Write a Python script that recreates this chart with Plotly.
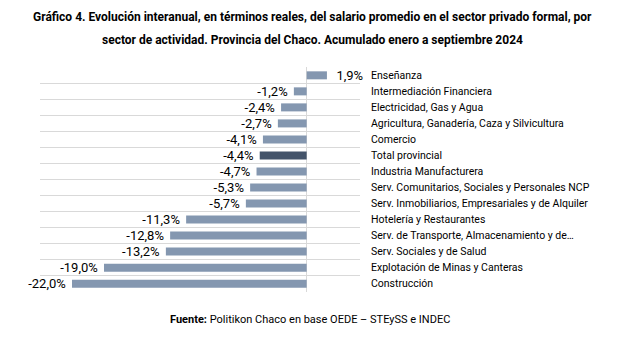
import plotly.graph_objects as go

categories = [
    "Enseñanza",
    "Intermediación Financiera",
    "Electricidad, Gas y Agua",
    "Agricultura, Ganadería, Caza y Silvicultura",
    "Comercio",
    "Total provincial",
    "Industria Manufacturera",
    "Serv. Comunitarios, Sociales y Personales NCP",
    "Serv. Inmobiliarios, Empresariales y de Alquiler",
    "Hotelería y Restaurantes",
    "Serv. de Transporte, Almacenamiento y de…",
    "Serv. Sociales y de Salud",
    "Explotación de Minas y Canteras",
    "Construcción",
]
values = [1.9, -1.2, -2.4, -2.7, -4.1, -4.4, -4.7, -5.3, -5.7, -11.3, -12.8, -13.2, -19.0, -22.0]
highlight = "Total provincial"

FONT = "Liberation Sans Narrow, Arial Narrow, Roboto, Liberation Sans, sans-serif"

colors = ["#44546A" if c == highlight else "#8497B0" for c in categories]
NB = "\u00a0"
labels = [(f"{v:.1f}%".replace(".", ",") + NB) if v < 0 else (NB * 2 + f"{v:.1f}%".replace(".", ","))
          for v in values]

fig = go.Figure(go.Bar(
    x=values, y=categories, orientation="h",
    marker=dict(color=colors, line=dict(width=0)),
    text=labels, textposition="outside", cliponaxis=False,
    constraintext="none",
    textfont=dict(family=FONT, size=13, color="#000000"),
    width=0.5,
))

fig.update_layout(
    width=625, height=338,
    margin=dict(l=40, r=265, t=67, b=46),
    paper_bgcolor="white", plot_bgcolor="white",
    showlegend=False,
    font=dict(family=FONT, size=11, color="#000000"),
    xaxis=dict(range=[-25, 5], showgrid=False, showticklabels=False,
               zeroline=True, zerolinecolor="#D9D9D9", zerolinewidth=1,
               ticks=""),
    yaxis=dict(type="category", side="right",
               tickson="boundaries", showgrid=True, gridcolor="#D9D9D9",
               gridwidth=1, ticks="", ticklabelstandoff=10,
               tickfont=dict(family=FONT, size=10.5, color="#000000"),
               range=[13.52, -0.52]),
)

ph = 338 - 67 - 46
def ypix(py):
    return (338 - 46 - py) / ph

fig.add_annotation(text="<b>Gráfico 4. Evolución interanual, en términos reales, del salario promedio en el sector privado formal, por</b>",
                   xref="paper", yref="paper", x=(312 - 40) / 320, y=ypix(17), showarrow=False,
                   xanchor="center", yanchor="middle", font=dict(family=FONT, size=12))
fig.add_annotation(text="<b>sector de actividad. Provincia del Chaco. Acumulado enero a septiembre 2024</b>",
                   xref="paper", yref="paper", x=(312 - 40) / 320, y=ypix(40), showarrow=False,
                   xanchor="center", yanchor="middle", font=dict(family=FONT, size=12))
fig.add_annotation(text="<b>Fuente:</b> Politikon Chaco en base OEDE – STEySS e INDEC",
                   xref="paper", yref="paper", x=(310 - 40) / 320, y=ypix(319), showarrow=False,
                   xanchor="center", yanchor="middle", font=dict(family=FONT, size=11))

fig.write_html("out.html")
